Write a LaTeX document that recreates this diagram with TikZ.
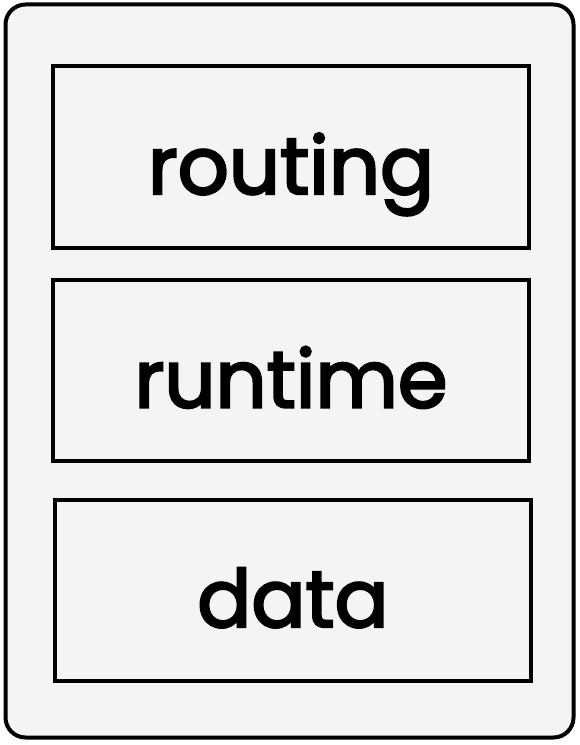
\documentclass[tikz,border=0pt]{standalone}
\usepackage{fontspec}
\setmainfont{Poppins}[FakeBold=3]
\tikzset{every picture/.style={line width=3pt}}
\tikzset{layer/.style={draw, line width=3pt, minimum width=476*0.75pt, minimum height=181*0.75pt, inner sep=0pt, text height=55.5pt, text depth=0pt, font=\fontsize{60}{70}\selectfont}}

\begin{document}
\begin{tikzpicture}[x=0.75pt,y=0.75pt,yscale=-1,xscale=1]
\useasboundingbox (0,0) rectangle (579,745);

%Rounded Rect [id:frame]
\draw [fill={rgb, 255:red, 244; green, 244; blue, 244 }, rounded corners=20*0.75pt] (5.5,4.5) rectangle (573.5,737.5) ;

% Text Node
\node [layer] (routing) at (291,157) {routing};
% Text Node
\node [layer] (runtime) at (291,370.5) {runtime};
% Text Node
\node [layer] (data) at (293,590) {data};

\end{tikzpicture}
\end{document}
